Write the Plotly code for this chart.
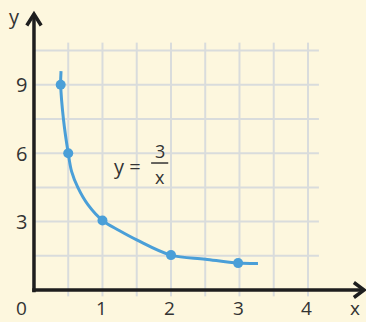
import plotly.graph_objects as go

# ---- data ----
point_x = [0.39, 0.5, 1.0, 2.0, 2.98]
point_y = [9.0, 6.0, 3.05, 1.53, 1.18]

curve_x = [0.395, 0.39, 0.43, 0.5, 0.55, 0.64, 0.79, 1.0, 1.25, 1.5, 2.0, 2.5, 2.98, 3.27]
curve_y = [9.6, 9.0, 7.5, 6.0, 5.19, 4.5, 3.73, 3.05, 2.6, 2.2, 1.53, 1.35, 1.18, 1.16]

x_tick_vals = [0, 1, 2, 3, 4]
x_tick_text = ["0", "1", "2", "3", "4"]
y_tick_vals = [3, 6, 9]
y_tick_text = ["3", "6", "9"]

grid_x = [0.5, 1.0, 1.5, 2.0, 2.5, 3.0, 3.5, 4.0]
grid_y = [1.5, 3.0, 4.5, 6.0, 7.5, 9.0, 10.5]

BG = "#FDF7DE"
GRID = "#D9DCDC"
BLUE = "#4A9FD8"
AXIS = "#1E1E1E"
TEXT = "#333333"
FONT = "Open Sans"

fig = go.Figure()

fig.add_trace(go.Scatter(
    x=curve_x, y=curve_y, mode="lines",
    line=dict(color=BLUE, width=3, shape="spline", smoothing=1.0),
    hoverinfo="skip", showlegend=False))
fig.add_trace(go.Scatter(
    x=point_x, y=point_y, mode="markers",
    marker=dict(color=BLUE, size=10),
    hoverinfo="skip", showlegend=False))

shapes = []
for gx in grid_x:
    shapes.append(dict(type="line", x0=gx, x1=gx, y0=-0.28, y1=10.85,
                       line=dict(color=GRID, width=2), layer="below"))
for gy in grid_y:
    shapes.append(dict(type="line", x0=0, x1=4.16, y0=gy, y1=gy,
                       line=dict(color=GRID, width=2), layer="below"))

# axes
shapes.append(dict(type="line", x0=0, x1=0, y0=-0.1, y1=12.05,
                   line=dict(color=AXIS, width=3.5)))
shapes.append(dict(type="line", x0=-0.025, x1=4.8, y0=0, y1=0,
                   line=dict(color=AXIS, width=3.5)))
# arrowheads (open chevrons)
shapes.append(dict(type="path", path="M -0.105,11.6 L 0,12.1 L 0.105,11.6",
                   line=dict(color=AXIS, width=3.5)))
shapes.append(dict(type="path", path="M 4.67,0.33 L 4.82,0 L 4.67,-0.33",
                   line=dict(color=AXIS, width=3.5)))
# fraction bar
shapes.append(dict(type="line", x0=1.71, x1=1.96, y0=5.57, y1=5.57,
                   line=dict(color=TEXT, width=1.5)))

annotations = []
def label(x, y, t, size=20, yanchor="middle"):
    annotations.append(dict(x=x, y=y, text=t, showarrow=False, borderpad=0,
                            font=dict(size=size, color=TEXT, family=FONT),
                            xanchor="center", yanchor=yanchor))

for v, t in zip(x_tick_vals, x_tick_text):
    label(-0.175 if v == 0 else v - 0.02, -1.4, t, 19, "bottom")
for v, t in zip(y_tick_vals, y_tick_text):
    label(-0.175, v, t)
label(4.69, -1.4, "x", 19, "bottom")
label(-0.28, 12.0, "y")
label(1.36, 5.4, "y =")
label(1.835, 6.1, "3", 18)
label(1.835, 4.95, "x", 18)

fig.update_layout(
    width=366, height=322,
    margin=dict(l=0, r=0, t=0, b=0, pad=0),
    paper_bgcolor=BG, plot_bgcolor=BG,
    xaxis=dict(range=[-0.496, 4.847], visible=False, fixedrange=True),
    yaxis=dict(range=[-1.404, 12.72], visible=False, fixedrange=True),
    shapes=shapes, annotations=annotations,
    showlegend=False,
)

fig.write_html(
    "out.html",
    config=dict(displayModeBar=False),
    post_script="document.body.style.margin='0';document.body.style.overflow='hidden';document.body.style.background='" + BG + "';",
)
